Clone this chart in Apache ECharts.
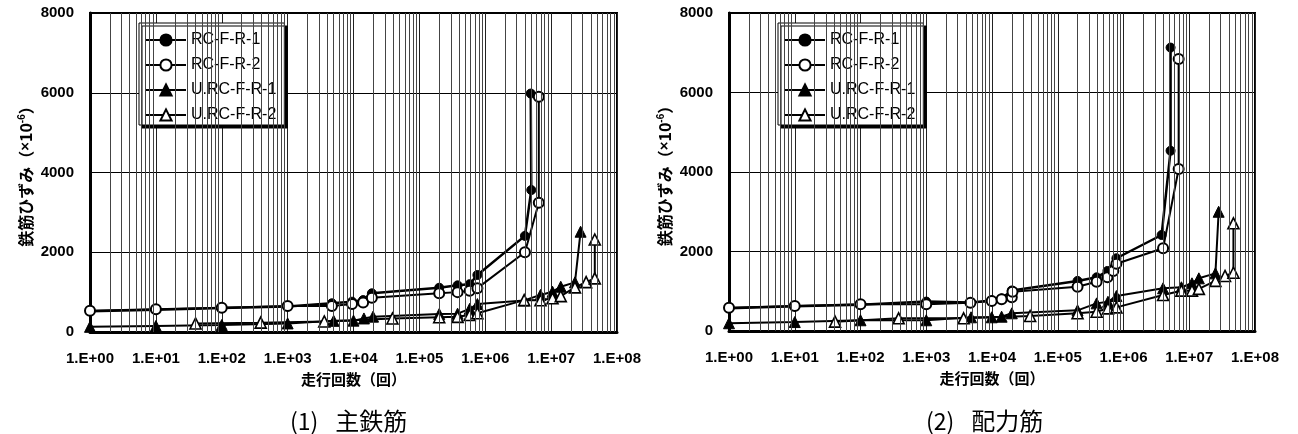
<!DOCTYPE html>
<html><head><meta charset="utf-8">
<script src="https://cdn.jsdelivr.net/npm/echarts@6/dist/echarts.min.js"></script>
<style>html,body{margin:0;padding:0;background:#fff}#c{width:1298px;height:434px}</style>
</head><body><div id="c"></div>
<script>
// ---- data ----
const seriesNames = ['RC-F-R-1', 'RC-F-R-2', 'U.RC-F-R-1', 'U.RC-F-R-2'];
const yTicks = [0, 2000, 4000, 6000, 8000];
const xTickLabels = ['1.E+00','1.E+01','1.E+02','1.E+03','1.E+04','1.E+05','1.E+06','1.E+07','1.E+08'];
const yAxisTitle = '鉄筋ひずみ';
const xAxisTitle = '走行回数（回）';
const captions = ['主鉄筋', '配力筋'];

// (1) 主鉄筋
const mainRC1 = [[1,520],[10,560],[100,600],[1000,640],[4700,720],[9500,760],[14000,800],[19000,970],[200000,1110],[380000,1170],[580000,1200],[760000,1430],[4000000,2410],[5000000,3560],[4900000,5980]];
const mainRC2 = [[1,530],[10,570],[100,610],[1000,650],[4700,650],[9500,700],[14000,740],[19000,860],[200000,970],[380000,1000],[580000,1035],[760000,1100],[4000000,2000],[6500000,3240],[6500000,5900]];
const mainURC1 = [[1,130],[10,150],[100,175],[1000,215],[5000,280],[10000,285],[14400,340],[19800,385],[200000,450],[380000,460],[580000,580],[760000,700],[3900000,790],[6900000,930],[10500000,1010],[14000000,1135],[23000000,1245],[28000000,2515]];
const mainURC2 = [[40,215],[390,235],[3600,265],[39000,340],[200000,370],[380000,380],[580000,425],[760000,470],[3900000,800],[6900000,795],[10500000,845],[14000000,900],[23000000,1120],[34000000,1250],[46000000,1345],[46000000,2320]];

// (2) 配力筋
const distRC1 = [[1,570],[10,620],[100,660],[1000,740],[4800,720],[9900,770],[14000,820],[20000,1020],[200000,1260],[390000,1350],[570000,1510],[780000,1830],[3800000,2415],[5200000,4535],[5200000,7130]];
const distRC2 = [[1,585],[10,630],[100,670],[1000,670],[4700,710],[9900,755],[14000,800],[20000,850],[20500,990],[200000,1115],[390000,1240],[570000,1350],[700000,1510],[780000,1690],[4000000,2080],[6900000,4075],[6900000,6845]];
const distURC1 = [[1,195],[10,225],[100,270],[1000,270],[4800,345],[9900,345],[14000,360],[20000,445],[200000,520],[390000,695],[580000,735],[780000,880],[4000000,1075],[7600000,1100],[11000000,1200],[14000000,1325],[25000000,1450],[28000000,3000]];
const distURC2 = [[41,235],[380,320],[3700,320],[38000,377],[200000,445],[390000,485],[580000,570],[780000,595],[4000000,905],[7600000,1015],[11000000,1015],[14000000,1060],[25000000,1260],[35000000,1385],[47000000,1465],[47000000,2710]];

const panels = [
  [mainRC1, mainRC2, mainURC1, mainURC2],
  [distRC1, distRC2, distURC1, distURC2]
];

// ---- chart ----
const latin = 'Liberation Sans, Arial, sans-serif';
const cjk = '"Noto Sans CJK JP", sans-serif';

const minorGrid = [];
for (let e = 0; e < 8; e++) for (let m = 2; m <= 9; m++) minorGrid.push(m * Math.pow(10, e));

const grids = [
  {left: 90, right: 681, top: 13, bottom: 102},
  {left: 729, right: 43, top: 13, bottom: 103}
];

const markerStyles = [
  {symbol: 'circle', symbolSize: 9, itemStyle: {color: '#000', borderColor: '#000', borderWidth: 1}},
  {symbol: 'circle', symbolSize: 10, itemStyle: {color: '#fff', borderColor: '#000', borderWidth: 2}},
  {symbol: 'triangle', symbolSize: 11, itemStyle: {color: '#000', borderColor: '#000', borderWidth: 1}},
  {symbol: 'triangle', symbolSize: 11, itemStyle: {color: '#fff', borderColor: '#000', borderWidth: 1.6}}
];

const xAxes = [], yAxes = [], series = [], legends = [], titles = [];
grids.forEach((g, i) => {
  xAxes.push({
    type: 'log', logBase: 10, min: 1, max: 1e8, gridIndex: i,
    axisLine: {show: true, onZero: false, lineStyle: {color: '#000', width: 3}},
    axisTick: {show: false},
    splitLine: {show: true, lineStyle: {color: '#222', width: 1}},
    axisLabel: {
      margin: 19, color: '#000', fontFamily: latin, fontWeight: 'bold', fontSize: 15,
      formatter: v => xTickLabels[Math.round(Math.log10(v))]
    },
    name: xAxisTitle, nameLocation: 'middle', nameGap: 40,
    nameTextStyle: {color: '#000', fontFamily: cjk, fontWeight: 'bold', fontSize: 15}
  });
  yAxes.push({
    type: 'value', min: yTicks[0], max: yTicks[yTicks.length - 1], interval: 2000, gridIndex: i,
    axisLine: {show: true, lineStyle: {color: '#000', width: 3}},
    axisTick: {show: false},
    splitLine: {show: true, lineStyle: {color: '#000', width: 1}},
    axisLabel: {margin: 16, color: '#000', fontFamily: latin, fontWeight: 'bold', fontSize: 15,
      formatter: v => String(v)},
    name: yAxisTitle + '（{x|×}10{sup|-6}）', nameLocation: 'middle', nameRotate: 90, nameGap: 55,
    nameTextStyle: {
      color: '#000', fontFamily: cjk, fontWeight: 'bold', fontSize: 16,
      rich: {
        x: {fontFamily: latin, fontWeight: 'bold', fontSize: 15, color: '#000'},
        sup: {fontFamily: latin, fontWeight: 'bold', fontSize: 10, color: '#000', verticalAlign: 'top', padding: [0, 0, 8, 0]}
      }
    }
  });
  // minor log gridlines
  series.push({
    name: '_grid' + i, type: 'line', xAxisIndex: i, yAxisIndex: i, data: [], z: 1, silent: true,
    markLine: {
      silent: true, symbol: ['none', 'none'], label: {show: false}, animation: false,
      lineStyle: {color: '#444', width: 1, type: 'solid'},
      data: minorGrid.map(v => ({xAxis: v}))
    }
  });
  panels[i].forEach((d, k) => {
    series.push(Object.assign({
      name: seriesNames[k], type: 'line', xAxisIndex: i, yAxisIndex: i, data: d, z: 3,
      lineStyle: {color: '#000', width: k === 0 ? 2.5 : 2},
      emphasis: {disabled: true}
    }, markerStyles[k]));
  });
  legends.push({
    data: seriesNames, orient: 'vertical', left: i === 0 ? 139 : 778, top: 23,
    itemWidth: 40, itemHeight: 14, itemGap: 9, padding: [9, 8, 2, 6],
    backgroundColor: '#fff', borderColor: '#000', borderWidth: 1,
    shadowColor: '#000', shadowBlur: 0, shadowOffsetX: 3, shadowOffsetY: 3,
    textStyle: {color: '#000', fontFamily: latin, fontSize: 16, lineHeight: 14, fontWeight: 'normal'},
    selectedMode: false
  });
  titles.push({
    text: '{a|(' + (i + 1) + ')}{b|' + captions[i] + '}',
    left: i === 0 ? 285 : 921, top: 404,
    textStyle: {
      fontWeight: 'normal',
      rich: {
        a: {fontFamily: cjk, fontSize: 23, fontWeight: 'normal', color: '#000'},
        b: {fontFamily: cjk, fontSize: 24, fontWeight: 'normal', color: '#000', padding: [0, 0, 0, 17]}
      }
    }
  });
});

const chart = echarts.init(document.getElementById('c'), null, {renderer: 'canvas'});
chart.setOption({
  animation: false,
  backgroundColor: '#fff',
  title: titles,
  grid: grids.map(g => Object.assign({show: true, borderColor: '#000', borderWidth: 2, backgroundColor: 'transparent'}, g)),
  xAxis: xAxes,
  yAxis: yAxes,
  legend: legends,
  series: series
});
</script></body></html>
